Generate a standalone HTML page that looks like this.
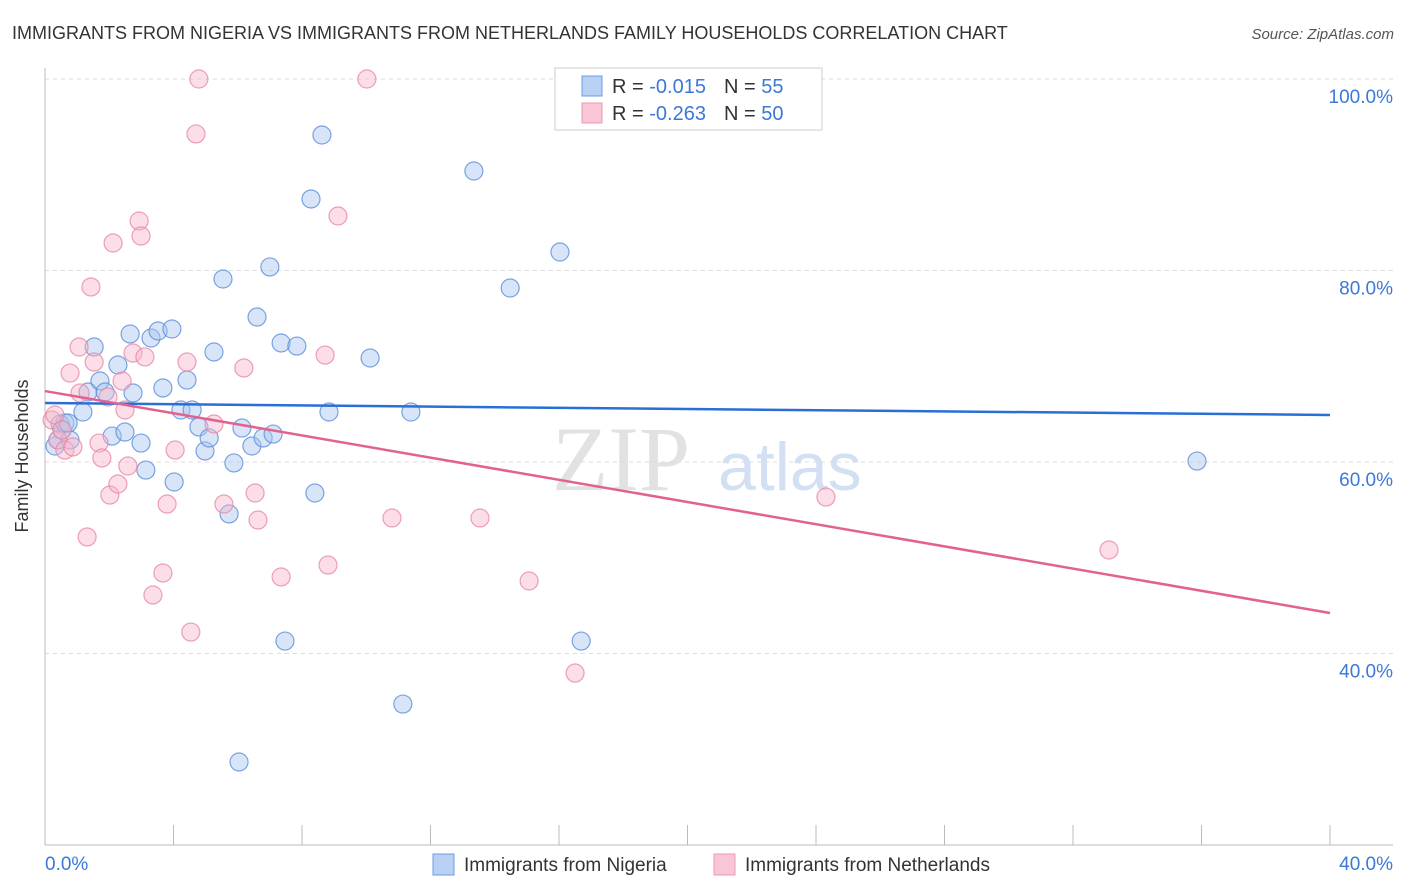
<!DOCTYPE html>
<html><head><meta charset="utf-8"><style>
body{margin:0;background:#fff;font-family:"Liberation Sans",sans-serif}
svg{display:block}
</style></head><body>
<svg id="chart" width="1406" height="892" xmlns="http://www.w3.org/2000/svg">
<text x="12" y="39" font-size="18" fill="#333">IMMIGRANTS FROM NIGERIA VS IMMIGRANTS FROM NETHERLANDS FAMILY HOUSEHOLDS CORRELATION CHART</text>
<text x="1394" y="39" font-size="15" fill="#555" font-style="italic" text-anchor="end">Source: ZipAtlas.com</text>
<g>
<text x="552" y="490" font-size="92" fill="#e2e2e2" font-family="Liberation Serif,serif">ZIP</text>
<text x="718" y="490" font-size="68" fill="#d3e0f3">atlas</text>
</g>
<g id="grid"></g>
<g id="axes"></g>
<g id="points"></g>
<g id="trends"></g>
<g>
<rect x="555" y="68" width="267" height="62" fill="#fff" stroke="#ccc"/>
<rect x="582" y="76" width="20" height="20" fill="#b8d0f3" stroke="#6a9be0"/>
<rect x="582" y="103" width="20" height="20" fill="#f8c6d6" stroke="#ec9ab5"/>
<text x="612" y="93" font-size="20" fill="#333">R = <tspan fill="#3b78d8">-0.015</tspan><tspan dx="18">N = </tspan><tspan fill="#3b78d8">55</tspan></text>
<text x="612" y="120" font-size="20" fill="#333">R = <tspan fill="#3b78d8">-0.263</tspan><tspan dx="18">N = </tspan><tspan fill="#3b78d8">50</tspan></text>
</g>
<g>
<rect x="433" y="854" width="21" height="21" fill="#b8d0f3" stroke="#6a9be0"/>
<text x="464" y="871" font-size="19" fill="#333">Immigrants from Nigeria</text>
<rect x="714" y="854" width="21" height="21" fill="#f8c6d6" stroke="#ec9ab5"/>
<text x="745" y="871" font-size="19" fill="#333">Immigrants from Netherlands</text>
</g>
<text x="28" y="456" font-size="18" fill="#333" text-anchor="middle" transform="rotate(-90 28 456)">Family Households</text>
</svg>
<script>
const yTicks=[40,60,80,100];
const yTickLabels=["40.0%","60.0%","80.0%","100.0%"];
const xTickLabels=["0.0%","40.0%"];
const nigeriaX=[0.31,0.40,0.47,0.53,0.62,0.78,0.72,1.18,1.34,1.53,1.71,1.87,2.09,2.27,2.49,2.65,2.74,2.99,3.14,3.30,3.52,3.67,3.95,4.02,4.23,4.42,4.58,4.79,4.98,5.11,5.26,5.54,5.73,5.88,6.13,6.44,6.60,6.79,7.00,7.10,7.35,7.47,7.84,8.28,8.40,8.62,8.84,10.12,11.14,11.39,13.35,14.48,16.03,16.69,35.86,6.04];
const nigeriaY=[61.67,62.30,63.97,63.34,64.07,62.30,64.07,65.22,67.31,72.01,68.46,67.31,62.71,70.13,63.13,73.37,67.21,61.98,59.16,72.95,73.68,67.73,73.89,57.91,65.43,68.56,65.43,63.66,61.15,62.51,71.49,79.11,54.57,59.90,63.55,61.67,75.14,62.51,80.37,62.92,72.43,41.30,72.11,87.47,56.76,94.15,65.22,70.86,34.72,65.22,90.39,78.17,81.93,41.30,60.10,28.67];
const nethX=[0.22,0.31,0.40,0.53,0.62,0.78,0.87,1.09,1.06,1.31,1.43,1.53,1.68,1.77,1.96,2.02,2.12,2.27,2.40,2.49,2.58,2.74,2.93,2.99,3.11,3.36,3.67,3.80,4.05,4.42,4.54,4.70,4.79,5.26,5.57,6.19,6.54,6.63,7.35,8.72,8.81,9.12,10.02,10.80,13.54,15.07,16.50,24.31,33.12];
const nethY=[64.39,64.91,62.30,63.34,61.25,69.29,61.57,67.21,72.01,52.17,78.28,70.44,61.98,60.42,66.79,56.55,82.87,57.70,68.46,65.43,59.58,71.38,85.17,83.60,70.97,46.11,48.41,55.61,61.25,70.44,42.24,94.26,100,63.97,55.61,69.82,56.76,53.94,47.99,71.17,49.24,85.69,100,54.15,54.15,47.57,37.96,56.34,50.81];
const nigeriaTrend=[66.16,64.91];
const nethTrend=[67.41,44.23];
const trendX=[0,40];

const NS="http://www.w3.org/2000/svg";
const X=v=>45+v/40*1285;
const Y=v=>79+(100-v)*9.575;
function mk(tag,attrs,parent){const e=document.createElementNS(NS,tag);for(const k in attrs)e.setAttribute(k,attrs[k]);parent.appendChild(e);return e;}
const grid=document.getElementById('grid'),axes=document.getElementById('axes'),pts=document.getElementById('points'),tr=document.getElementById('trends');
yTicks.forEach((t,i)=>{
  const l=mk('line',{x1:45,x2:1393,y1:Y(t),y2:Y(t),stroke:'#ddd','stroke-dasharray':'4,4'},grid);
  
  
  const tx=mk('text',{x:1393,y:Y(t)+24,'font-size':19,fill:'#3b78d8','text-anchor':'end'},axes);
  tx.textContent=yTickLabels[i];
  
  
});
const ax=mk('line',{x1:45,x2:45,y1:68,y2:845,stroke:'#bbb'},axes);


const bx=mk('line',{x1:45,x2:1393,y1:845,y2:845,stroke:'#bbb'},axes);


for(let v=0;v<=40;v+=4){
  const t=mk('line',{x1:X(v),x2:X(v),y1:825,y2:845,stroke:'#bbb'},axes);
  
  
}
[[0,'start',45],[40,'end',1393]].forEach((d,i)=>{
  const t=mk('text',{x:d[2],y:870,'font-size':19,fill:'#3b78d8','text-anchor':d[1]},axes);
  t.textContent=xTickLabels[i];
  
  
});
function series(xs,ys,fill,stroke,name){
  xs.forEach((x,i)=>{
    const c=mk('circle',{cx:X(x),cy:Y(ys[i]),r:9,fill:fill,'fill-opacity':0.45,stroke:stroke,'stroke-opacity':0.8,'stroke-width':1.2},pts);
    
    
  });
}
series(nigeriaX,nigeriaY,'#a9c6f0','#5b8fd9','nigeria');
series(nethX,nethY,'#f6b5ca','#e888a8','netherlands');
const t1=mk('line',{x1:X(trendX[0]),x2:X(trendX[1]),y1:Y(nigeriaTrend[0]),y2:Y(nigeriaTrend[1]),stroke:'#2a6fd6','stroke-width':2.5},tr);


const t2=mk('line',{x1:X(trendX[0]),x2:X(trendX[1]),y1:Y(nethTrend[0]),y2:Y(nethTrend[1]),stroke:'#e2628f','stroke-width':2.5},tr);


</script>
</body></html>
